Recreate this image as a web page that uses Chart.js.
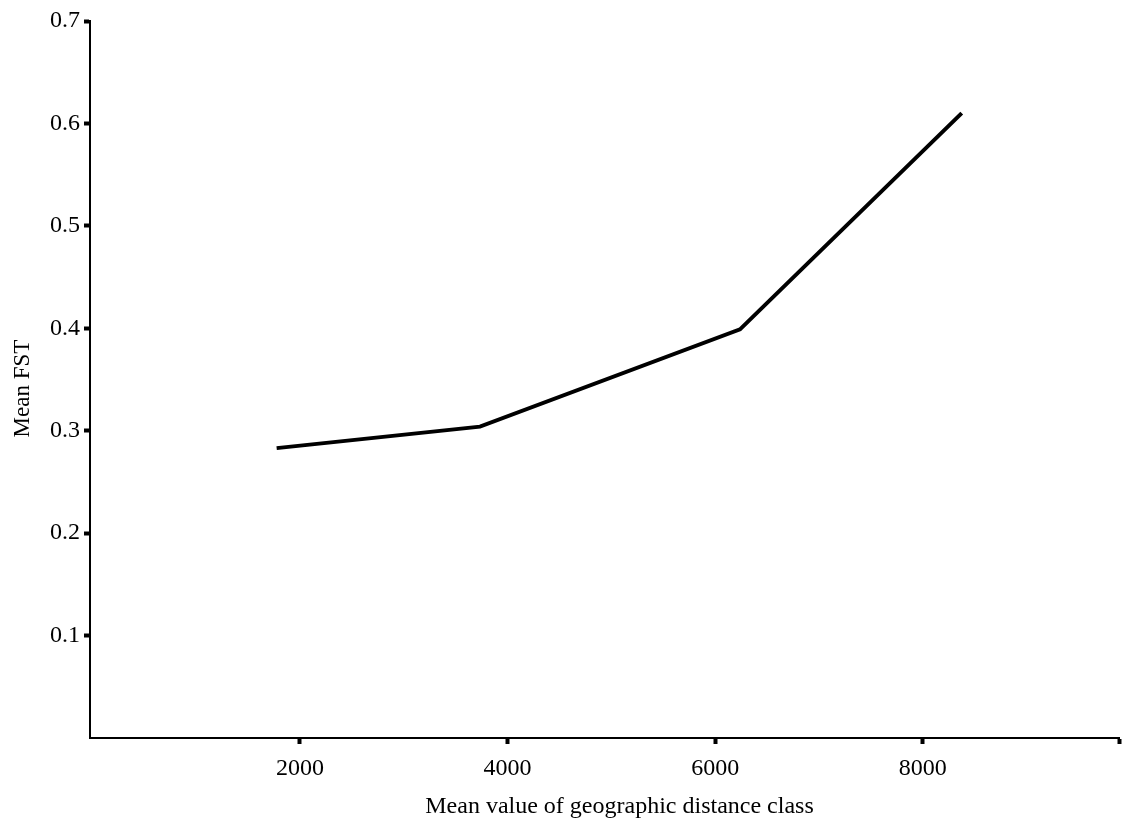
<!DOCTYPE html>
<html><head><meta charset="utf-8">
<script src="https://cdn.jsdelivr.net/npm/chart.js@4"></script>
<style>html,body{margin:0;padding:0;background:#fff}#wrap{width:1123px;height:821px}</style>
</head><body><div id="wrap"><canvas id="c" width="1123" height="821"></canvas></div>
<script>
const distanceClass = [1775, 3734, 6239, 8375];
const meanFst = [0.283, 0.304, 0.399, 0.610];
const xTicks = [2000, 4000, 6000, 8000];
const yTicks = [0.1, 0.2, 0.3, 0.4, 0.5, 0.6, 0.7];
const xTitle = 'Mean value of geographic distance class';
const yTitle = 'Mean FST';
const xMin = -23, xMax = 9890;
const font = "'Liberation Serif', 'Times New Roman', serif";

const titlesPlugin = {
  id: 'axisTitles',
  afterDraw(chart) {
    const ctx = chart.ctx, area = chart.chartArea;
    ctx.save();
    ctx.fillStyle = '#000';
    ctx.textAlign = 'center';
    ctx.font = "24px " + font;
    ctx.textBaseline = 'alphabetic';
    ctx.fillText(xTitle, (area.left + area.right) / 2 + 15, 813);
    ctx.translate(23, (area.top + area.bottom) / 2 + 9);
    ctx.rotate(-Math.PI / 2);
    ctx.font = "23px " + font;
    ctx.textBaseline = 'middle';
    ctx.fillText(yTitle, 0, 0);
    ctx.restore();
  }
};

new Chart(document.getElementById('c'), {
  type: 'line',
  data: { datasets: [{
    data: distanceClass.map((x, i) => ({x, y: meanFst[i]})),
    borderColor: '#000', borderWidth: 4, pointRadius: 0, tension: 0, fill: false
  }]},
  plugins: [titlesPlugin],
  options: {
    responsive: false, animation: false, devicePixelRatio: 1,
    layout: { padding: { left: 0, right: 4, top: 21, bottom: 0 } },
    plugins: { legend: { display: false }, tooltip: { enabled: false } },
    scales: {
      x: {
        type: 'linear', min: xMin, max: xMax,
        afterBuildTicks: s => { s.ticks = xTicks.concat([xMax]).map(v => ({value: v})); },
        afterFit: s => { s.height = 83; s.paddingRight = 0; },
        ticks: { color: '#000', font: { family: font, size: 24 }, padding: 10, maxRotation: 0,
          callback: v => xTicks.includes(v) ? String(v) : '' },
        grid: { drawOnChartArea: false, drawTicks: true, tickLength: 6, tickWidth: 4, color: '#000' },
        border: { display: true, color: '#000', width: 2 },
        title: { display: false }
      },
      y: {
        type: 'linear', min: 0, max: 0.7,
        afterBuildTicks: s => { s.ticks = yTicks.map(v => ({value: v})); },
        afterFit: s => { s.width = 90; },
        ticks: { color: '#000', font: { family: font, size: 24 }, padding: 4,
          callback: v => v.toFixed(1) },
        grid: { drawOnChartArea: false, drawTicks: true, tickLength: 6, tickWidth: 4, color: '#000' },
        border: { display: true, color: '#000', width: 2 },
        title: { display: false }
      }
    }
  }
});
</script></body></html>
